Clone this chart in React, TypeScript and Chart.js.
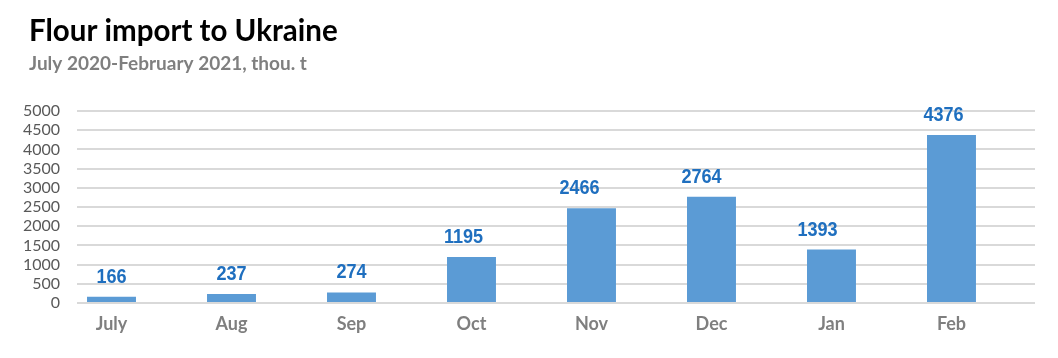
import React, { useEffect, useRef } from "react";
import { Chart, registerables } from "chart.js";

Chart.register(...registerables);

const TITLE = "Flour import to Ukraine";
const SUBTITLE = "July 2020-February 2021, thou. t";
const months = ["July", "Aug", "Sep", "Oct", "Nov", "Dec", "Jan", "Feb"];
const imports = [166, 237, 274, 1195, 2466, 2764, 1393, 4376];
const yMin = 0;
const yMax = 5000;
const yStep = 500;

// horizontal nudges of the value labels (style only, in px)
const labelNudge = [0, 0, 0, -8, -12, -10, -14, -8];

export default function App() {
  const ref = useRef<HTMLCanvasElement>(null);

  useEffect(() => {
    if (!ref.current) return;

    const valueLabels = {
      id: "valueLabels",
      afterDatasetsDraw(chart: any) {
        const ctx = chart.ctx;
        const meta = chart.getDatasetMeta(0);
        ctx.save();
        ctx.font = "bold 21px 'Liberation Sans', Arial, sans-serif";
        ctx.fillStyle = "#1F6FBF";
        ctx.textAlign = "center";
        ctx.textBaseline = "alphabetic";
        meta.data.forEach((bar: any, i: number) => {
          ctx.save();
          ctx.translate(bar.x + (labelNudge[i] || 0), bar.y - 14);
          ctx.scale(0.86, 1);
          ctx.fillText(String(imports[i]), 0, 0);
          ctx.restore();
        });
        ctx.restore();
      },
    };

    const titles = {
      id: "titles",
      afterDraw(chart: any) {
        const ctx = chart.ctx;
        ctx.save();
        ctx.textAlign = "left";
        ctx.textBaseline = "alphabetic";
        ctx.fillStyle = "#000000";
        ctx.font = "bold 29.5px Lato, 'Open Sans', sans-serif";
        ctx.fillText(TITLE, 29, 41);
        ctx.fillStyle = "#7F7F7F";
        ctx.font = "bold 19px Lato, 'Open Sans', sans-serif";
        ctx.fillText(SUBTITLE, 29, 70);
        ctx.restore();
      },
    };

    const chart = new Chart(ref.current, {
      type: "bar",
      data: {
        datasets: [
          {
            data: imports.map((v, i) => ({ x: i, y: v })),
            backgroundColor: "#5B9BD5",
            borderWidth: 0,
            categoryPercentage: 1,
            barPercentage: 0.408,
          },
        ],
      },
      plugins: [valueLabels, titles],
      options: {
        responsive: false,
        animation: false,
        layout: { padding: { top: 111, right: 23, left: 0, bottom: 0 } },
        plugins: {
          legend: { display: false },
          tooltip: { enabled: false },
        },
        scales: {
          x: {
            type: "linear",
            offset: false,
            min: -0.2875,
            max: 7.696,
            afterBuildTicks: (s: any) => {
              s.ticks = months.map((_, i) => ({ value: i }));
            },
            afterFit: (s: any) => {
              s.height = 55;
            },
            grid: { display: false, drawTicks: false },
            border: { display: false },
            ticks: {
              autoSkip: false,
              maxRotation: 0,
              padding: 10,
              color: "#7F7F7F",
              font: { family: "Lato, 'Open Sans', sans-serif", size: 18, weight: "bold" },
              callback: (v: any) => months[v as number] ?? "",
            },
          },
          y: {
            min: yMin,
            max: yMax,
            afterFit: (s: any) => {
              s.width = 77;
            },
            grid: { color: "#D9D9D9", lineWidth: 2, drawTicks: false },
            border: { display: false },
            ticks: {
              stepSize: yStep,
              autoSkip: false,
              padding: 17,
              color: "#595959",
              font: { family: "Lato, 'Open Sans', sans-serif", size: 16 },
              callback: (v: any) => String(v),
            },
          },
        },
      },
    } as any);

    return () => chart.destroy();
  }, []);

  return (
    <div style={{ position: "absolute", left: 0, top: 0, width: 1058, height: 358, background: "#fff" }}>
      <canvas ref={ref} width={1058} height={358} style={{ display: "block" }} />
    </div>
  );
}
